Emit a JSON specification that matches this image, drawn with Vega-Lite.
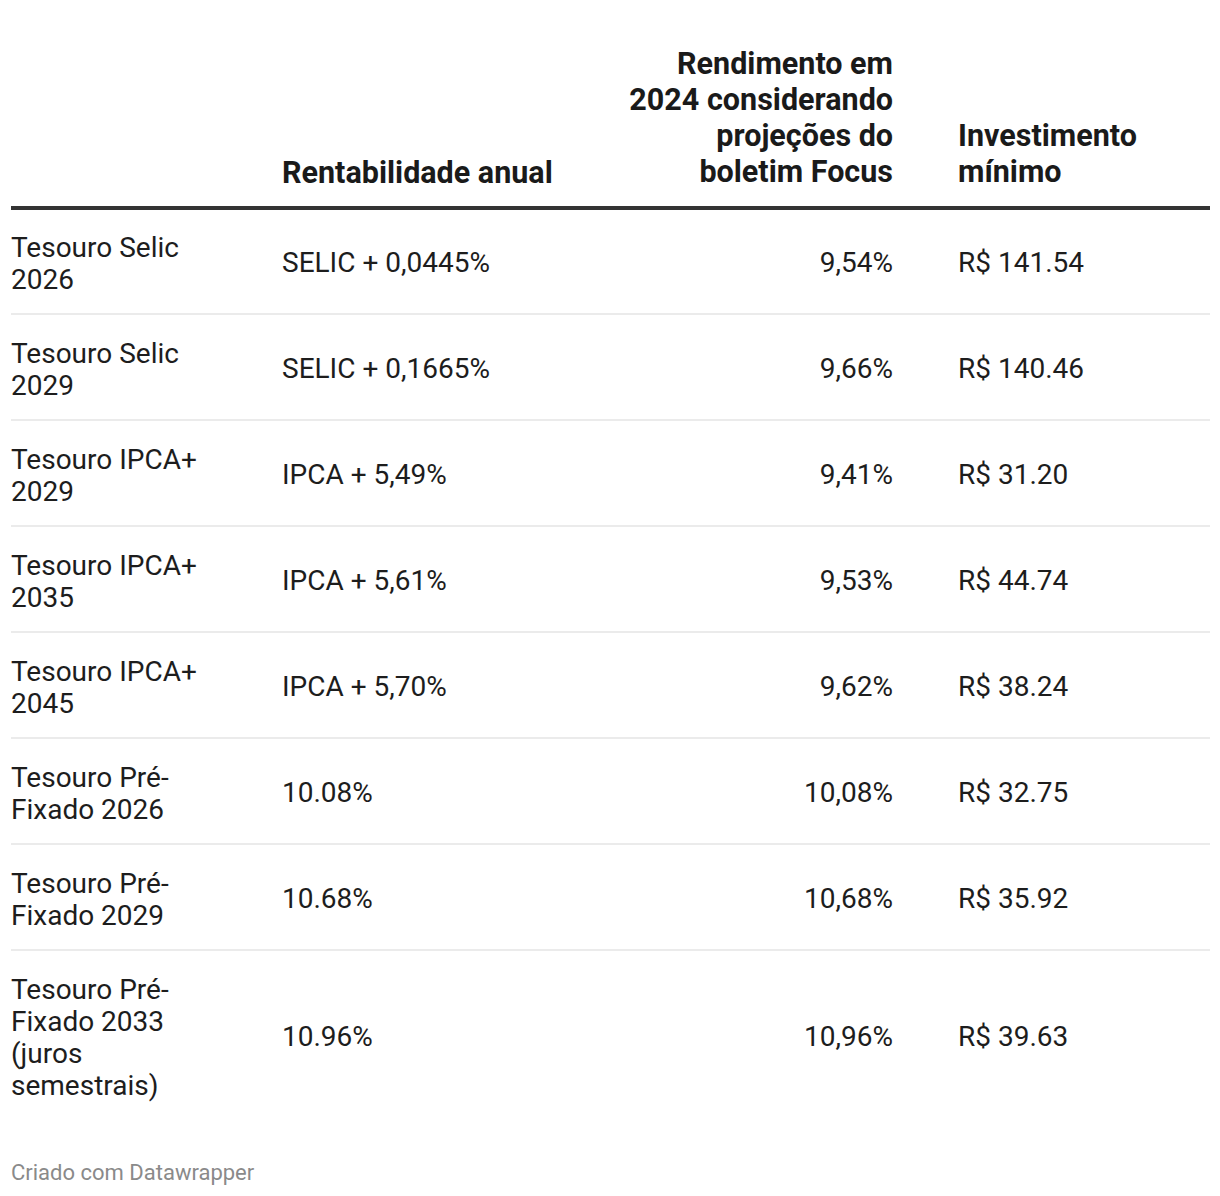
{
  "$schema": "https://vega.github.io/schema/vega-lite/v6.json",
  "width": 1199,
  "height": 954,
  "autosize": "none",
  "padding": {"left": 11, "right": 10, "top": 103, "bottom": 139},
  "background": "#ffffff",
  "title": {
    "text": "Criado com Datawrapper",
    "orient": "bottom",
    "anchor": "start",
    "frame": "group",
    "offset": 62,
    "font": "Roboto",
    "fontSize": 22,
    "fontWeight": "normal",
    "color": "#8a8a8a"
  },
  "config": {"view": {"stroke": null}, "font": "Roboto"},
  "datasets": {
    "tabela": [
      {"ordem": 1, "titulo": "Tesouro Selic\n2026", "rentabilidade": "SELIC + 0,0445%", "rendimento": "9,54%", "investimento": "R$ 141.54"},
      {"ordem": 2, "titulo": "Tesouro Selic\n2029", "rentabilidade": "SELIC + 0,1665%", "rendimento": "9,66%", "investimento": "R$ 140.46"},
      {"ordem": 3, "titulo": "Tesouro IPCA+\n2029", "rentabilidade": "IPCA + 5,49%", "rendimento": "9,41%", "investimento": "R$ 31.20"},
      {"ordem": 4, "titulo": "Tesouro IPCA+\n2035", "rentabilidade": "IPCA + 5,61%", "rendimento": "9,53%", "investimento": "R$ 44.74"},
      {"ordem": 5, "titulo": "Tesouro IPCA+\n2045", "rentabilidade": "IPCA + 5,70%", "rendimento": "9,62%", "investimento": "R$ 38.24"},
      {"ordem": 6, "titulo": "Tesouro Pré-\nFixado 2026", "rentabilidade": "10.08%", "rendimento": "10,08%", "investimento": "R$ 32.75"},
      {"ordem": 7, "titulo": "Tesouro Pré-\nFixado 2029", "rentabilidade": "10.68%", "rendimento": "10,68%", "investimento": "R$ 35.92"},
      {"ordem": 8, "titulo": "Tesouro Pré-\nFixado 2033\n(juros\nsemestrais)", "rentabilidade": "10.96%", "rendimento": "10,96%", "investimento": "R$ 39.63"}
    ],
    "cabecalho": [
      {"rentabilidade": "Rentabilidade anual", "rendimento": "Rendimento em\n2024 considerando\nprojeções do\nboletim Focus", "investimento": "Investimento\nmínimo"}
    ]
  },
  "data": {"name": "tabela"},
  "layer": [
    {
      "data": {"name": "tabela"},
      "transform": [{"filter": "datum.ordem < 8"}],
      "mark": {"type": "rule", "color": "#ebebeb", "strokeWidth": 2},
      "encoding": {
        "y": {"field": "ordem", "type": "ordinal", "bandPosition": 0.99,
              "scale": {"type": "band", "domain": [0, 1, 2, 3, 4, 5, 6, 7, 8], "paddingInner": 0, "paddingOuter": 0},
              "axis": null}
      }
    },
    {
      "data": {"name": "cabecalho"},
      "mark": {"type": "rule", "color": "#333333", "strokeWidth": 4},
      "encoding": {
        "y": {"datum": 0, "type": "ordinal", "bandPosition": 0.99, "axis": null}
      }
    },
    {
      "data": {"name": "cabecalho"},
      "mark": {"type": "text", "align": "left", "baseline": "alphabetic", "lineBreak": "\n", "font": "Roboto", "fontWeight": "bold", "fontSize": 30.5, "lineHeight": 36, "color": "#1a1a1a"},
      "encoding": {
        "x": {"datum": "rentabilidade", "type": "nominal", "bandPosition": -0.0959,
              "scale": {"type": "band", "domain": ["titulo", "rentabilidade", "rendimento", "investimento"], "paddingInner": 0, "paddingOuter": 0},
              "axis": null},
        "y": {"datum": 0, "type": "ordinal", "bandPosition": 0.75},
        "text": {"field": "rentabilidade"}
      }
    },
    {
      "data": {"name": "cabecalho"},
      "mark": {"type": "text", "align": "right", "baseline": "alphabetic", "lineBreak": "\n", "font": "Roboto", "fontWeight": "bold", "fontSize": 30.5, "lineHeight": 36, "color": "#1a1a1a"},
      "encoding": {
        "x": {"datum": "rendimento", "type": "nominal", "bandPosition": 0.9425},
        "y": {"datum": 0, "type": "ordinal", "bandPosition": -0.269},
        "text": {"field": "rendimento"}
      }
    },
    {
      "data": {"name": "cabecalho"},
      "mark": {"type": "text", "align": "left", "baseline": "alphabetic", "lineBreak": "\n", "font": "Roboto", "fontWeight": "bold", "fontSize": 30.5, "lineHeight": 36, "color": "#1a1a1a"},
      "encoding": {
        "x": {"datum": "investimento", "type": "nominal", "bandPosition": 0.1593},
        "y": {"datum": 0, "type": "ordinal", "bandPosition": 0.41},
        "text": {"field": "investimento"}
      }
    },
    {
      "mark": {"type": "text", "align": "left", "baseline": "alphabetic", "lineBreak": "\n", "font": "Roboto", "fontSize": 28, "lineHeight": 32, "color": "#1d1d1d"},
      "encoding": {
        "x": {"datum": "titulo", "type": "nominal", "bandPosition": 0},
        "y": {"field": "ordem", "type": "ordinal", "bandPosition": 0.45},
        "text": {"field": "titulo"}
      }
    },
    {
      "transform": [{"filter": "datum.ordem < 8"}],
      "mark": {"type": "text", "align": "left", "baseline": "alphabetic", "font": "Roboto", "fontSize": 28, "color": "#1d1d1d"},
      "encoding": {
        "x": {"datum": "rentabilidade", "type": "nominal", "bandPosition": -0.0959},
        "y": {"field": "ordem", "type": "ordinal", "bandPosition": 0.597},
        "text": {"field": "rentabilidade"}
      }
    },
    {
      "transform": [{"filter": "datum.ordem == 8"}],
      "mark": {"type": "text", "align": "left", "baseline": "alphabetic", "font": "Roboto", "fontSize": 28, "color": "#1d1d1d"},
      "encoding": {
        "x": {"datum": "rentabilidade", "type": "nominal", "bandPosition": -0.0959},
        "y": {"field": "ordem", "type": "ordinal", "bandPosition": 0.9},
        "text": {"field": "rentabilidade"}
      }
    },
    {
      "transform": [{"filter": "datum.ordem < 8"}],
      "mark": {"type": "text", "align": "right", "baseline": "alphabetic", "font": "Roboto", "fontSize": 28, "color": "#1d1d1d"},
      "encoding": {
        "x": {"datum": "rendimento", "type": "nominal", "bandPosition": 0.9425},
        "y": {"field": "ordem", "type": "ordinal", "bandPosition": 0.597},
        "text": {"field": "rendimento"}
      }
    },
    {
      "transform": [{"filter": "datum.ordem == 8"}],
      "mark": {"type": "text", "align": "right", "baseline": "alphabetic", "font": "Roboto", "fontSize": 28, "color": "#1d1d1d"},
      "encoding": {
        "x": {"datum": "rendimento", "type": "nominal", "bandPosition": 0.9425},
        "y": {"field": "ordem", "type": "ordinal", "bandPosition": 0.9},
        "text": {"field": "rendimento"}
      }
    },
    {
      "transform": [{"filter": "datum.ordem < 8"}],
      "mark": {"type": "text", "align": "left", "baseline": "alphabetic", "font": "Roboto", "fontSize": 28, "color": "#1d1d1d"},
      "encoding": {
        "x": {"datum": "investimento", "type": "nominal", "bandPosition": 0.1593},
        "y": {"field": "ordem", "type": "ordinal", "bandPosition": 0.597},
        "text": {"field": "investimento"}
      }
    },
    {
      "transform": [{"filter": "datum.ordem == 8"}],
      "mark": {"type": "text", "align": "left", "baseline": "alphabetic", "font": "Roboto", "fontSize": 28, "color": "#1d1d1d"},
      "encoding": {
        "x": {"datum": "investimento", "type": "nominal", "bandPosition": 0.1593},
        "y": {"field": "ordem", "type": "ordinal", "bandPosition": 0.9},
        "text": {"field": "investimento"}
      }
    }
  ]
}
